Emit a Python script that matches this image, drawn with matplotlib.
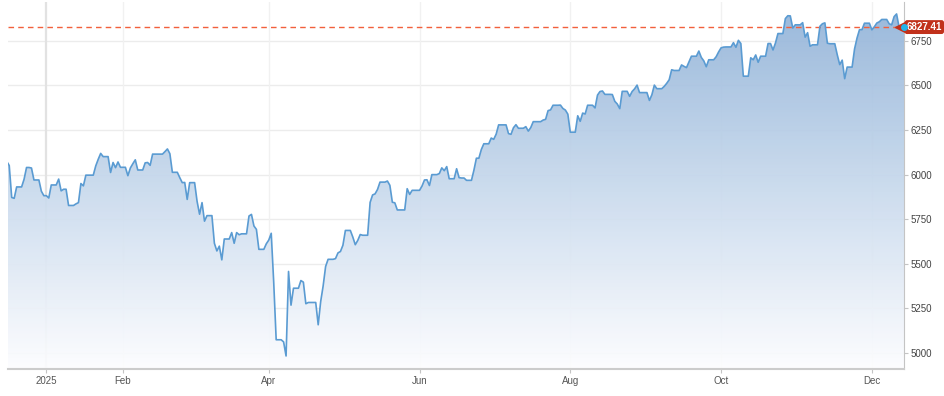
import numpy as np
import pandas as pd
import matplotlib
matplotlib.use("Agg")
import matplotlib.pyplot as plt
import matplotlib.dates as mdates
import matplotlib.transforms as mtransforms
from matplotlib.colors import LinearSegmentedColormap

# market holidays inside the window
holidays = ["2024-12-25", "2025-01-01", "2025-01-09", "2025-01-20", "2025-02-17",
            "2025-04-18", "2025-05-26", "2025-06-19", "2025-07-04", "2025-09-01",
            "2025-11-27"]

# daily closes, 16 Dec 2024 .. 12 Dec 2025
dec24 = [6074, 6051, 5872, 5867, 5931, 5974, 6040, 6037, 5970, 5907, 5882]
jan = [5869, 5942, 5975, 5909, 5918, 5827, 5836, 5843, 5950, 5937, 5997, 6049, 6086,
       6119, 6101, 6012, 6068, 6039, 6071, 6041]
feb = [5994, 6037, 6061, 6083, 6026, 6066, 6068, 6052, 6115, 6115, 6129, 6144, 6117,
       6013, 5983, 5955, 5956, 5861, 5955]
mar = [5850, 5778, 5843, 5739, 5770, 5615, 5572, 5599, 5522, 5639, 5675, 5615, 5675,
       5663, 5668, 5768, 5777, 5712, 5693, 5581, 5612]
apr = [5633, 5671, 5397, 5074, 5062, 4983, 5457, 5268, 5363, 5406, 5397, 5276, 5283,
       5158, 5288, 5376, 5485, 5525, 5529, 5561, 5569]
may = [5604, 5687, 5650, 5607, 5631, 5664, 5660, 5844, 5886, 5892, 5917, 5958, 5964,
       5940, 5845, 5842, 5802, 5921, 5889, 5912, 5912]
jun = [5936, 5970, 5971, 5939, 6000, 6006, 6038, 6022, 6045, 5977, 6033, 5983, 5981,
       5968, 6025, 6092, 6092, 6141, 6173, 6205]
jul = [6198, 6227, 6279, 6230, 6226, 6263, 6280, 6260, 6269, 6244, 6264, 6297, 6297,
       6306, 6310, 6359, 6363, 6389, 6390, 6371, 6362, 6339]
aug = [6238, 6330, 6299, 6345, 6340, 6389, 6374, 6446, 6466, 6469, 6450, 6449, 6411,
       6396, 6370, 6467, 6439, 6466, 6481, 6502, 6460]
sep = [6416, 6448, 6502, 6482, 6495, 6512, 6532, 6588, 6584, 6615, 6607, 6600, 6632,
       6664, 6693, 6657, 6638, 6605, 6644, 6661, 6688]
oct_ = [6711, 6715, 6716, 6740, 6714, 6753, 6735, 6552, 6655, 6644, 6671, 6630, 6664,
        6735, 6735, 6699, 6738, 6791, 6875, 6891, 6890, 6822, 6840]
nov = [6852, 6771, 6796, 6720, 6728, 6832, 6846, 6851, 6737, 6734, 6672, 6617, 6642,
       6538, 6603, 6705, 6766, 6813, 6849]
dec25 = [6812, 6829, 6850, 6857, 6870, 6846, 6840, 6886, 6901, 6827.41]

closes = dec24 + jan + feb + mar + apr + may + jun + jul + aug + sep + oct_ + nov + dec25
last_price = closes[-1]

y_ticks = [5000, 5250, 5500, 5750, 6000, 6250, 6500, 6750]
x_tick_dates = ["2025-01-01", "2025-02-01", "2025-04-01", "2025-06-01",
                "2025-08-01", "2025-10-01", "2025-12-01"]
x_tick_labels = ["2025", "Feb", "Apr", "Jun", "Aug", "Oct", "Dec"]

trade_days = pd.bdate_range("2024-12-16", "2025-12-12", freq="C", holidays=holidays)
s = pd.Series(closes, index=trade_days)
# calendar series, closed days carry the last close
s = s.reindex(pd.date_range("2024-12-16", "2025-12-14")).ffill()
start = pd.Timestamp("2024-12-16 12:00")
end = pd.Timestamp("2025-12-14 00:00")
xs = s.index
ys = s.values
ymin, ymax = 4910, 6968

plt.rcParams["font.family"] = ["Liberation Sans", "DejaVu Sans"]

fig = plt.figure(figsize=(9.45, 3.96), dpi=100)
fig.patch.set_facecolor("white")
ax = fig.add_axes([8 / 945, 27 / 396, 896 / 945, 367 / 396])

# grid
for v in y_ticks:
    ax.axhline(v, color="#ececec", lw=1, zorder=0)
for d, lab in zip(x_tick_dates, x_tick_labels):
    if lab == "2025":
        ax.axvline(pd.Timestamp(d), color="#e2e2e2", lw=1.6, zorder=0)
    else:
        ax.axvline(pd.Timestamp(d), color="#f1f1f1", lw=1, zorder=0)

# gradient area
poly = ax.fill_between(xs, ys, ymin, facecolor="none", edgecolor="none")
cmap = LinearSegmentedColormap.from_list("g", ["#fdfdff", "#c9daed", "#93b4d9"])
x0, x1 = mdates.date2num(start), mdates.date2num(end)
im = ax.imshow(np.linspace(1, 0, 256).reshape(-1, 1), cmap=cmap, aspect="auto",
               extent=[x0, x1, ymin, 6900], origin="upper", alpha=0.92, zorder=1)
im.set_clip_path(poly.get_paths()[0], transform=ax.transData)

ax.plot(xs, ys, color="#5a9bd2", lw=1.2, zorder=3)
ax.axhline(last_price, color="#f2603c", lw=1, ls=(0, (4, 3)), zorder=2)

ax.set_xlim(start, end)
ax.set_ylim(ymin, ymax)

# price tag
tr = mtransforms.blended_transform_factory(ax.transAxes, ax.transData)
ax.plot([0.997], [last_price], marker="<", color="#c1311b", ms=8, transform=tr,
        clip_on=False, zorder=5)
ax.text(1.003, last_price, "%.2f" % last_price, transform=tr, ha="left", va="center",
        color="white", fontsize=7, fontweight="bold", zorder=6,
        bbox=dict(boxstyle="round,pad=0.2,rounding_size=0.25", fc="#c1311b", ec="none"))
ax.plot([end], [last_price], "o", color="#21b4ea", ms=4, clip_on=False, zorder=7)

# axes
for side in ["top", "left"]:
    ax.spines[side].set_visible(False)
ax.spines["right"].set_color("#c4c4c4")
ax.spines["bottom"].set_color("#cccccc")
ax.spines["bottom"].set_linewidth(1.5)
ax.yaxis.tick_right()
ax.set_yticks(y_ticks)
ax.set_yticklabels([str(v) for v in y_ticks])
ax.set_xticks([pd.Timestamp(d) for d in x_tick_dates])
ax.set_xticklabels(x_tick_labels)
ax.tick_params(axis="y", length=3, width=0.8, color="#c4c4c4", labelsize=7,
               labelcolor="#444444", pad=2)
ax.tick_params(axis="x", length=3, width=0.8, color="#c4c4c4", labelsize=7,
               labelcolor="#555555", pad=2)

fig.savefig("out.png", dpi=100, facecolor="white")
